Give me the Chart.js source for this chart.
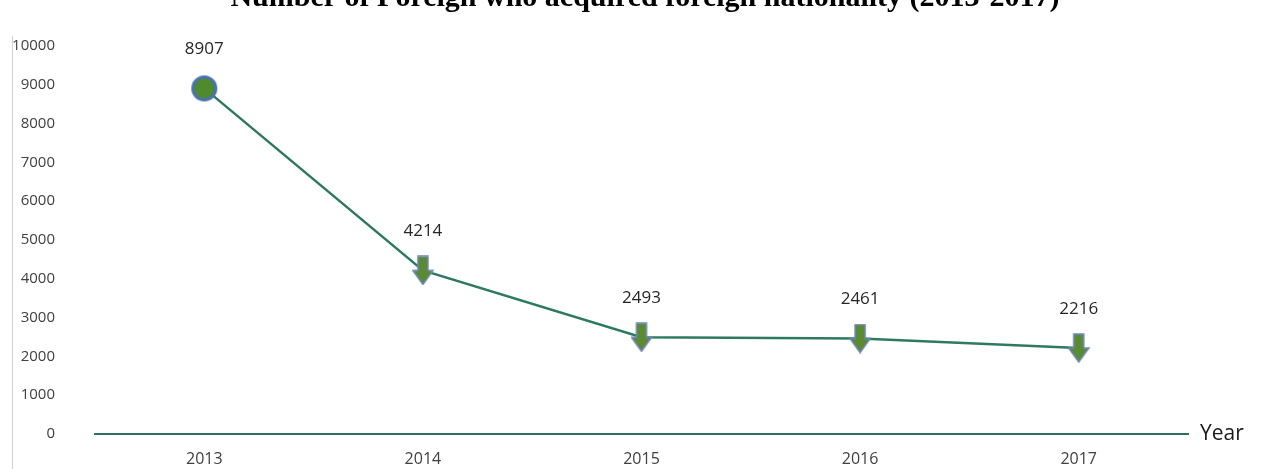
<!DOCTYPE html>
<html>
<head>
<meta charset="utf-8">
<script src="https://cdn.jsdelivr.net/npm/chart.js@4.4.0/dist/chart.umd.min.js"></script>
<style>
  html, body { margin: 0; padding: 0; background: #fff; overflow: hidden; }
  #wrap { position: relative; width: 1263px; height: 469px; }
  #frame { position: absolute; left: 12px; top: 36px; bottom: 0; border-left: 1px solid #d0d0d0; }
  canvas { display: block; }
</style>
</head>
<body>
<div id="wrap">
  <div id="frame"></div>
  <canvas id="grafica"></canvas>
</div>
<script>
// datos de la grafica
const years = ['2013', '2014', '2015', '2016', '2017'];
const acquired = [8907, 4214, 2493, 2461, 2216];
const yTicks = [0, 1000, 2000, 3000, 4000, 5000, 6000, 7000, 8000, 9000, 10000];
const chartTitle = 'Number of Foreign who acquired foreign nationality (2013-2017)';
const xAxisName = 'Year';

// flecha hacia abajo para los puntos
function makeArrow() {
    const c = document.createElement('canvas');
    c.width = 22; c.height = 30;
    const g = c.getContext('2d');
    g.beginPath();
    g.moveTo(6, 1); g.lineTo(16, 1); g.lineTo(16, 15); g.lineTo(21, 15);
    g.lineTo(11, 29); g.lineTo(1, 15); g.lineTo(6, 15); g.closePath();
    g.fillStyle = '#5a8a34';
    g.fill();
    g.lineWidth = 1.5;
    g.strokeStyle = '#6f86b8';
    g.stroke();
    return c;
}

function makeCircle() {
    const c = document.createElement('canvas');
    c.width = 28; c.height = 28;
    const g = c.getContext('2d');
    g.beginPath();
    g.arc(14, 14, 11.5, 0, Math.PI * 2);
    g.fillStyle = '#4f8a2e';
    g.fill();
    g.lineWidth = 3;
    g.strokeStyle = '#4a72b0';
    g.stroke();
    return c;
}

const arrow = makeArrow();
const circle = makeCircle();

const labelsPlugin = {
    id: 'etiquetas',
    afterDatasetsDraw(chart) {
        const ctx = chart.ctx;
        const meta = chart.getDatasetMeta(0);
        ctx.save();
        ctx.font = '17px "Open Sans", sans-serif';
        ctx.fillStyle = '#262626';
        ctx.textAlign = 'center';
        ctx.textBaseline = 'middle';
        meta.data.forEach((pt, i) => {
            ctx.fillText(acquired[i], pt.x, pt.y - 39);
        });
        // nombre del eje x
        const x = chart.scales.x;
        ctx.font = '21px "Open Sans", sans-serif';
        ctx.textAlign = 'left';
        ctx.fillStyle = '#1a1a1a';
        ctx.fillText(xAxisName, x.right + 12, x.top);
        // titulo (cortado arriba como en la imagen)
        ctx.font = 'bold 30px "Liberation Serif", serif';
        ctx.textAlign = 'center';
        ctx.textBaseline = 'alphabetic';
        ctx.fillStyle = '#000';
        ctx.fillText(chartTitle, 645, 6);
        ctx.restore();
    }
};

const ctx = document.getElementById('grafica').getContext('2d');
new Chart(ctx, {
    type: 'line',
    data: {
        labels: years,
        datasets: [{
            label: 'Acquired',
            data: acquired,
            borderColor: '#2e7a60',
            borderWidth: 2.5,
            tension: 0,
            pointStyle: acquired.map((v, i) => i === 0 ? circle : arrow),
            pointRadius: 12
        }]
    },
    options: {
        responsive: true,
        maintainAspectRatio: false,
        animation: false,
        layout: { padding: { top: 46, right: 75, left: 0, bottom: 0 } },
        plugins: {
            legend: { display: false },
            title: { display: false },
            tooltip: { enabled: false }
        },
        scales: {
            x: {
                offset: true,
                grid: { display: false },
                border: { display: true, color: '#2f6e60', width: 2 },
                ticks: { padding: 8, color: '#404040', font: { size: 16, family: '"Open Sans", sans-serif' } },
                afterFit(scale) {
                    scale.height = 35;
                    scale.paddingLeft = 0;
                    scale.paddingRight = 0;
                }
            },
            y: {
                min: 0,
                max: 10000,
                afterBuildTicks(scale) { scale.ticks = yTicks.map(v => ({ value: v })); },
                grid: { display: false, drawTicks: false },
                border: { display: false },
                ticks: {
                    padding: 40, color: '#404040',
                    font: { size: 15, family: '"Open Sans", sans-serif' },
                    callback: v => String(v)
                },
                afterFit(scale) {
                    scale.width = 95;
                    scale.paddingTop = 0;
                    scale.paddingBottom = 0;
                }
            }
        }
    },
    plugins: [labelsPlugin]
});
</script>
</body>
</html>
